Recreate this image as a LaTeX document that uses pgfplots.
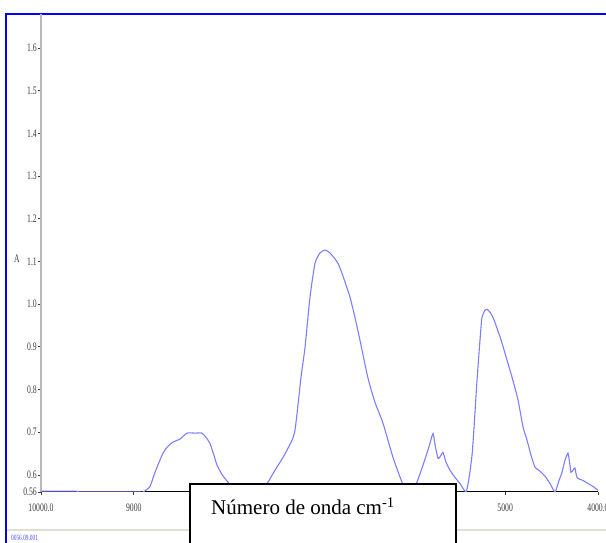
\documentclass[border=0pt]{standalone}
\usepackage{pgfplots}
\pgfplotsset{compat=1.18}
\usepackage{fontspec}
\setmainfont{Liberation Serif}
\newfontfamily\tickfont[FakeStretch=0.67]{Liberation Serif}
\definecolor{curve}{RGB}{125,125,255}
\definecolor{tickgray}{RGB}{60,60,60}
\definecolor{axgray}{RGB}{185,185,185}
\definecolor{sepgray}{RGB}{225,222,210}
\definecolor{frameblue}{RGB}{0,0,255}
\begin{document}
\begin{tikzpicture}[x=1pt,y=1pt]
\useasboundingbox (0,0) rectangle (606,543);
% outer frame
\draw[frameblue, line width=1.6pt] (6,-5) -- (6,529) -- (615,529);
\draw[sepgray, line width=1.5pt] (7,13) -- (615,13);
\node[anchor=west, inner sep=0pt, text=frameblue!70, font=\tickfont\fontsize{8}{8}\selectfont] at (11,5) {0056.09.001};
\begin{axis}[
  at={(41pt,51pt)}, anchor=south west,
  scale only axis, width=557pt, height=478pt,
  xmin=4000, xmax=10000, x dir=reverse,
  ymin=0.56, ymax=1.68,
  scaled x ticks=false, scaled y ticks=false,
  axis x line=bottom, axis y line=left,
  x axis line style={-, black, line width=1pt},
  y axis line style={-, axgray, line width=1.5pt},
  tick align=outside, major tick length=3pt,
  every tick/.style={tickgray, line width=0.8pt},
  xtick={10000,9000,8000,7000,6000,5000,4000},
  xticklabels={10000.0,9000,,,,5000,4000.0},
  ytick={0.56,0.6,0.7,0.8,0.9,1.0,1.1,1.2,1.3,1.4,1.5,1.6},
  yticklabels={0.56,0.6,0.7,0.8,0.9,1.0,1.1,1.2,1.3,1.4,1.5,1.6},
  ticklabel style={font=\tickfont\fontsize{11.5}{11.5}\selectfont, text=tickgray},
  xticklabel style={anchor=north, inner sep=0pt, yshift=-9pt},
  yticklabel style={anchor=east, inner sep=0pt, xshift=-1pt},
]
\addplot[curve, line width=1.1pt, smooth, tension=0.35] coordinates {
(10000,0.562) (9620,0.562) (9560,0.560) (8950,0.560) (8901,0.560)
(8826,0.573) (8772,0.606) (8686,0.651) (8632,0.667) (8578,0.677)
(8503,0.684) (8427,0.698) (8341,0.698) (8266,0.698) (8223,0.688)
(8180,0.674) (8137,0.646) (8104,0.623) (8050,0.601) (7986,0.583)
(7910,0.566) (7835,0.560) (7695,0.560) (7619,0.571) (7555,0.583)
(7480,0.611) (7393,0.641) (7296,0.681) (7264,0.705) (7232,0.763)
(7199,0.829) (7156,0.899) (7102,1.017) (7048,1.096) (6995,1.120)
(6941,1.127) (6887,1.120) (6801,1.096) (6736,1.059) (6672,1.017)
(6618,0.969) (6564,0.916) (6478,0.827) (6402,0.770) (6316,0.721)
(6208,0.641) (6111,0.583) (6047,0.560) (6004,0.560) (5950,0.583)
(5896,0.616) (5842,0.651) (5810,0.674) (5777,0.697) (5756,0.672)
(5723,0.639) (5691,0.646) (5670,0.653) (5637,0.630) (5594,0.611)
(5540,0.594) (5487,0.580) (5422,0.560) (5390,0.592) (5357,0.646)
(5335,0.712) (5303,0.822) (5271,0.916) (5250,0.969) (5217,0.986)
(5196,0.988) (5163,0.981) (5131,0.969) (5088,0.944) (5034,0.909)
(4980,0.869) (4926,0.829) (4861,0.775) (4807,0.712) (4764,0.681)
(4721,0.646) (4678,0.618) (4625,0.609) (4571,0.597) (4517,0.580)
(4463,0.560) (4420,0.587) (4388,0.606) (4356,0.634) (4323,0.651)
(4302,0.623) (4291,0.606) (4269,0.611) (4248,0.616) (4226,0.594)
(4162,0.587) (4108,0.580) (4054,0.573) (4000,0.564)
};
\end{axis}
\node[font=\tickfont\fontsize{11.5}{11.5}\selectfont, text=tickgray, inner sep=0pt] at (17,284) {A};
% label box
\draw[black, line width=1.5pt, fill=white] (190,59) rectangle (456,-20);
\node[anchor=base west, inner sep=0pt, font=\fontsize{21}{21}\selectfont] at (211,28) {Número de onda cm\textsuperscript{-1}};
\end{tikzpicture}
\end{document}
